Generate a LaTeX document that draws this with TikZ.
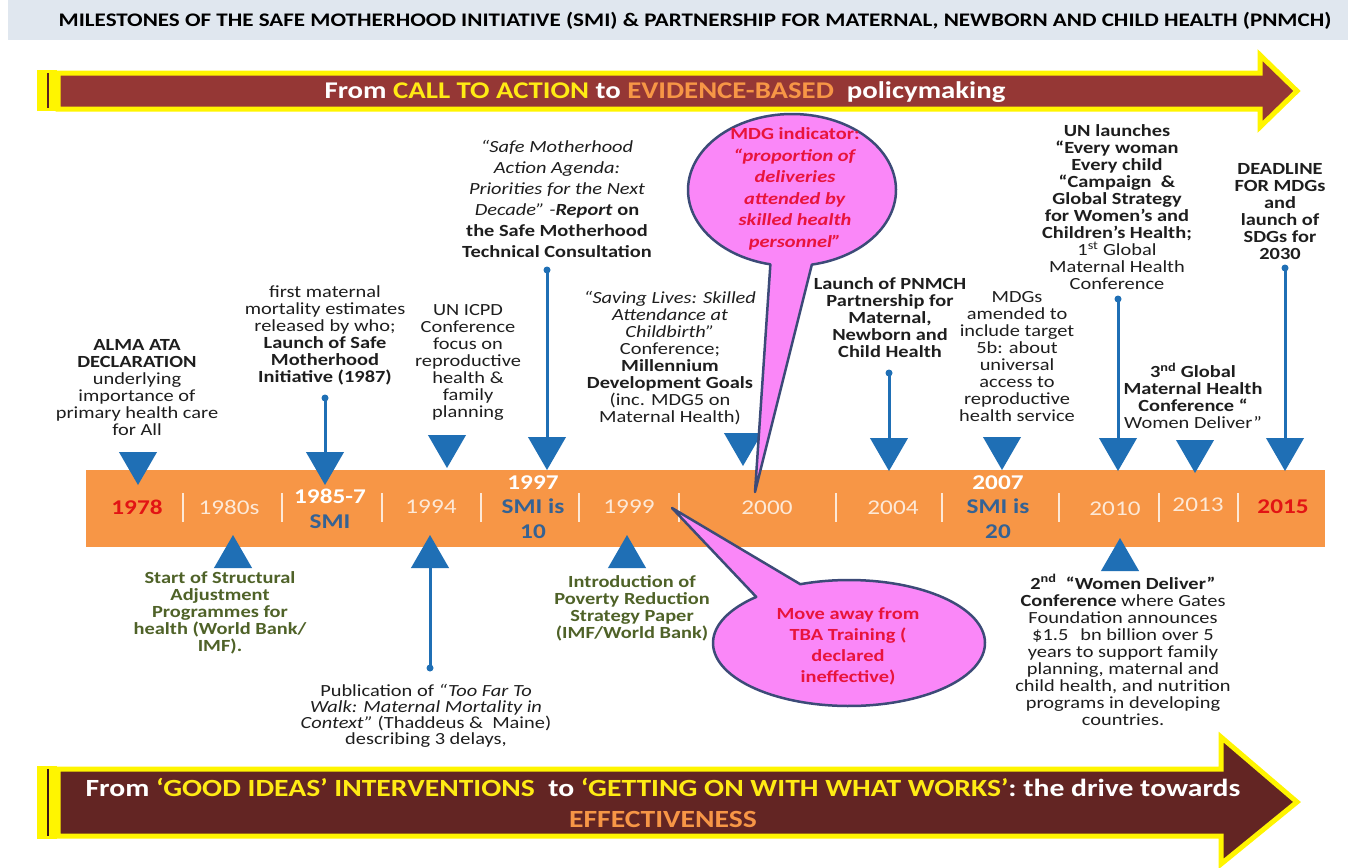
\documentclass[tikz,border=0pt]{standalone}
\usepackage{fontspec}
\setmainfont{Carlito}[FakeStretch=1.2]
\usetikzlibrary{shapes.geometric}

\definecolor{txt}{RGB}{30,30,30}
\definecolor{mblue}{RGB}{31,111,181}
\definecolor{barorange}{RGB}{247,150,70}
\definecolor{yearcream}{RGB}{253,233,215}
\definecolor{smiblue}{RGB}{52,98,148}
\definecolor{yearred}{RGB}{226,20,20}
\definecolor{olive}{RGB}{79,98,40}
\definecolor{callred}{RGB}{232,20,60}
\definecolor{bubble}{RGB}{250,135,248}
\definecolor{bubbleedge}{RGB}{60,75,120}
\definecolor{arrowtop}{RGB}{149,55,53}
\definecolor{arrowbot}{RGB}{99,37,35}
\definecolor{glow}{RGB}{255,245,0}
\definecolor{hlyellow}{RGB}{255,235,20}
\definecolor{hlorange}{RGB}{247,150,70}
\definecolor{band}{RGB}{224,231,239}

\begin{document}
\lineskiplimit=-20pt\relax
\begin{tikzpicture}[x=1pt,y=-1pt,
  body/.style={font=\fontsize{17}{17}\selectfont, text=txt, align=center, inner sep=0pt},
  boldbody/.style={body, font=\fontsize{17}{17}\selectfont\bfseries},
  loosebody/.style={body, font=\fontsize{17}{21}\selectfont},
  greenbody/.style={body, text=olive, font=\fontsize{17}{17}\selectfont\bfseries},
  calltext/.style={body, text=callred, font=\fontsize{17}{21.5}\selectfont\bfseries},
  yearlbl/.style={font=\fontsize{21}{21}\selectfont, text=yearcream, inner sep=0pt},
  yearbold/.style={font=\fontsize{21}{25}\selectfont\bfseries, inner sep=0pt, align=center},
  arrowtext/.style={font=\fontsize{24}{31}\selectfont\bfseries, text=white, inner sep=0pt, align=center},
  downtri/.style={regular polygon, regular polygon sides=3, shape border rotate=180,
    fill=mblue, inner sep=0pt, outer sep=0pt, minimum size=44pt},
  uptri/.style={regular polygon, regular polygon sides=3,
    fill=mblue, inner sep=0pt, outer sep=0pt, minimum size=44pt},
  conn/.style={draw=mblue, line width=3pt},
  dotn/.style={circle, fill=mblue, inner sep=0pt, outer sep=0pt, minimum size=7pt},
  yearsep/.style={draw=yearcream, line width=1.2pt},
  callout/.style={fill=bubble, draw=bubbleedge, line width=2.5pt, line join=round}
]
\useasboundingbox (0,0) rectangle (1348,867);
\fill[white] (0,0) rectangle (1348,867);

% title band
\fill[band] (8,0) rectangle (1348,40);
\node[font=\fontsize{19.2}{19.2}\selectfont\bfseries, text=black, inner sep=0pt] (title) at (695,21)
  {MILESTONES OF THE SAFE MOTHERHOOD INITIATIVE (SMI) \& PARTNERSHIP FOR MATERNAL, NEWBORN AND CHILD HEALTH (PNMCH)};

% upper banner arrow
\fill[glow] (37,70) rectangle (57,111);
\draw[arrowtop!60!black, line width=1.5pt] (48,73) -- (48,108);
\filldraw[fill=arrowtop, draw=glow, line width=5pt] (58,73) -- (1260,73) -- (1260,55) -- (1297,91)
  -- (1260,127) -- (1260,109) -- (58,109) -- cycle;
\node[arrowtext] (toptext) at (665,92)
  {From \textcolor{hlyellow}{CALL TO ACTION} to \textcolor{hlorange}{EVIDENCE-BASED}\ \ policymaking};

% lower banner arrow
\fill[glow] (37,766) rectangle (57,839);
\draw[arrowbot!60!black, line width=1.5pt] (48,769) -- (48,836);
\filldraw[fill=arrowbot, draw=glow, line width=5pt] (58,769) -- (1221,769) -- (1221,737) -- (1297,802)
  -- (1221,864) -- (1221,836) -- (58,836) -- cycle;
\node[arrowtext, font=\fontsize{24.7}{31}\selectfont\bfseries] (bottext) at (663,803)
  {From \textcolor{hlyellow}{‘GOOD IDEAS’ INTERVENTIONS}\ \ to \textcolor{hlyellow}{‘GETTING ON WITH WHAT WORKS’}: the drive towards\\
   \textcolor{hlorange}{EFFECTIVENESS}};

% timeline bar
\node[fill=barorange, minimum width=1239pt, minimum height=77pt, inner sep=0pt, outer sep=0pt] (bar) at (705.5,508.5) {};
\foreach \sx in {183,282,382,481,579,679,836,942,1059,1159,1238}
  \draw[yearsep] (\sx,493) -- (\sx,522);

% markers above the bar
\node[downtri] (t78) at (138,463) {};
\node[downtri] (t85) at (325,463) {};
\node[downtri] (t94) at (447,446) {};
\node[downtri] (t97) at (547,448) {};
\node[downtri] (t00) at (743,444) {};
\node[downtri] (t04) at (889,449) {};
\node[downtri] (t07) at (1002,448) {};
\node[downtri] (t10) at (1118,449) {};
\node[downtri] (t13) at (1195,451) {};
\node[downtri] (t15) at (1285,449) {};

% markers below the bar
\node[uptri] (b80) at (233,557) {};
\node[uptri] (b94) at (430,557) {};
\node[uptri] (b99) at (627,557) {};
\node[uptri] (b10) at (1120,560) {};

% stems with end dots
\node[dotn] (d85) at (325,398) {};
\node[dotn] (d97) at (547,270) {};
\node[dotn] (d04) at (889,373) {};
\node[dotn] (d10) at (1118,299) {};
\node[dotn] (d15) at (1285,268) {};
\node[dotn] (d94) at (430,668) {};
\draw[conn] (d85.center) -- (t85.north);
\draw[conn] (d97.center) -- (t97.north);
\draw[conn] (d04.center) -- (t04.north);
\draw[conn] (d10.center) -- (t10.north);
\draw[conn] (d15.center) -- (t15.north);
\draw[conn] (b94.south) -- (d94.center);

% year labels
\node[yearbold, text=yearred] (y78) at (137,507) {1978};
\node[yearlbl] (y80) at (229,507) {1980s};
\node[yearbold] (y85) at (330,509) {\textcolor{white}{1985-7}\\\textcolor{smiblue}{SMI}};
\node[yearlbl] (y94) at (431,507) {1994};
\node[yearbold, font=\fontsize{21}{24.5}\selectfont\bfseries] (y97) at (533,507) {\textcolor{white}{1997}\\\textcolor{smiblue}{SMI is}\\\textcolor{smiblue}{10}};
\node[yearlbl] (y99) at (629,507) {1999};
\node[yearlbl] (y00) at (767,508) {2000};
\node[yearlbl] (y04) at (893,508) {2004};
\node[yearbold, font=\fontsize{21}{24.5}\selectfont\bfseries] (y07) at (998,507) {\textcolor{white}{2007}\\\textcolor{smiblue}{SMI is}\\\textcolor{smiblue}{20}};
\node[yearlbl] (y10) at (1115,509) {2010};
\node[yearlbl] (y13) at (1198,505) {2013};
\node[yearbold, text=yearred] (y15) at (1283,507) {2015};

% event texts above the bar
\node[body] (alma) at (137,388)
  {\textbf{ALMA ATA}\\\textbf{DECLARATION}\\underlying\\importance of\\primary health care\\for All};
\node[body] (smi) at (325,335)
  {first maternal\\mortality estimates\\released by who;\\\textbf{Launch of Safe}\\\textbf{Motherhood}\\\textbf{Initiative (1987)}};
\node[body] (icpd) at (468,362)
  {UN ICPD\\Conference\\focus on\\reproductive\\health \&\\family\\planning};
\node[loosebody] (agenda) at (557,199)
  {\textit{“Safe Motherhood}\\\textit{Action Agenda:}\\\textit{Priorities for the Next}\\\textit{Decade” -\textbf{Report}}\textbf{ on}\\\textbf{the Safe Motherhood}\\\textbf{Technical Consultation}};
\node[body] (saving) at (670,358)
  {\textit{“Saving Lives: Skilled}\\\textit{Attendance at}\\\textit{Childbirth”}\\Conference;\\\textbf{Millennium}\\\textbf{Development Goals}\\(inc. MDG5 on\\Maternal Health)};
\node[boldbody] (pnmch) at (890,318)
  {Launch of PNMCH\\Partnership for\\Maternal,\\Newborn and\\Child Health};
\node[body] (target) at (1017,357)
  {MDGs\\amended to\\include target\\5b: about\\universal\\access to\\reproductive\\health service};
\node[body] (ewec) at (1117,207)
  {\textbf{UN launches}\\\textbf{“Every woman}\\\textbf{Every child}\\\textbf{“Campaign\ \ \&}\\\textbf{Global Strategy}\\\textbf{for Women’s and}\\\textbf{Children’s Health;}\\1\textsuperscript{st} Global\\Maternal Health\\Conference};
\node[boldbody] (deadline) at (1280,212)
  {DEADLINE\\FOR MDGs\\and\\launch of\\SDGs for\\2030};
\node[body] (wd3) at (1193,396)
  {\textbf{3\textsuperscript{nd} Global}\\\textbf{Maternal Health}\\\textbf{Conference “}\\Women Deliver”};

% event texts below the bar
\node[greenbody] (sap) at (220,613)
  {Start of Structural\\Adjustment\\Programmes for\\health (World Bank/\\IMF).};
\node[greenbody] (prsp) at (632,608)
  {Introduction of\\Poverty Reduction\\Strategy Paper\\(IMF/World Bank)};
\node[body, font=\fontsize{17}{16.2}\selectfont] (toofar) at (426,716)
  {Publication of \textit{“Too Far To}\\\textit{Walk: Maternal Mortality in}\\\textit{Context”} (Thaddeus \&\ \ Maine)\\describing 3 delays,};
\node[body] (wd2) at (1123,650)
  {\textbf{2\textsuperscript{nd}\ \ “Women Deliver”}\\\textbf{Conference} where Gates\\Foundation announces\\\$1.5\hspace{0.7em}bn billion over 5\\years to support family\\planning, maternal and\\child health, and nutrition\\programs in developing\\countries.};

% speech bubbles
\filldraw[callout] (755,492) -- plot[domain=102:439, samples=120] ({792+104*cos(\x)},{190+76*sin(\x)}) -- cycle;
\node[calltext] (mdg) at (795,189)
  {MDG indicator:\\\textit{“proportion of}\\\textit{deliveries}\\\textit{attended by}\\\textit{skilled health}\\\textit{personnel”}};
\filldraw[callout] (672,508) -- plot[domain=249:587, samples=120] ({849+136*cos(\x)},{643+63*sin(\x)}) -- cycle;
\node[calltext, font=\fontsize{17}{21}\selectfont\bfseries] (tba) at (848,646)
  {Move away from\\TBA Training (\\declared\\ineffective)};
\end{tikzpicture}
\end{document}
